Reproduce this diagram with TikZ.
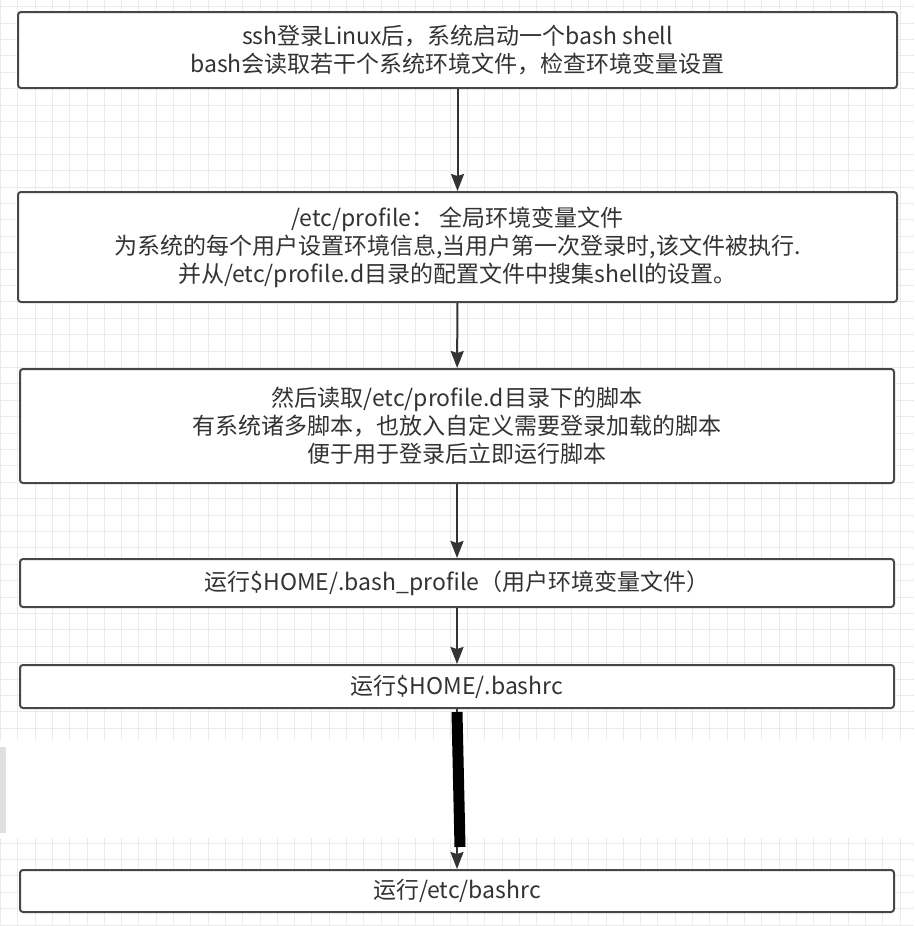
\documentclass[tikz,border=0pt]{standalone}
\usepackage{fontspec}
\setmainfont{Noto Sans CJK SC}
\usetikzlibrary{arrows.meta}
\begin{document}
\begin{tikzpicture}[x=1pt,y=-1pt,>={Stealth[length=17pt,width=13pt,inset=2pt]},
        box/.style={draw=black!72, line width=2pt, rounded corners=3pt, fill=white, align=center, text=black!80, font=\fontsize{23}{28}\selectfont, inner sep=0pt},
        flow/.style={->, draw=black!80, line width=2pt},
        gridline/.style={black!8, line width=1pt}]
        % Background
        \useasboundingbox (0,0) rectangle (914,926);
        \fill[white] (0,0) rectangle (914,926);
        \foreach \i in {0,...,52} \draw[gridline] (0.5+17.3*\i,0) -- (0.5+17.3*\i,926);
        \foreach \j in {0,...,56} \draw[gridline] (0,6.6+16.4*\j) -- (914,6.6+16.4*\j);
        \fill[white] (0,740) rectangle (914,838);
        \fill[black!12] (0,747) rectangle (6,833);
        % Nodes
        \node[box, minimum width=879, minimum height=76] (ssh) at (457.5,50) {ssh登录Linux后，系统启动一个bash shell\\bash会读取若干个系统环境文件，检查环境变量设置};
        \node[box, minimum width=879, minimum height=110] (profile) at (457.5,247) {/etc/profile：\ 全局环境变量文件\\为系统的每个用户设置环境信息,当用户第一次登录时,该文件被执行.\\并从/etc/profile.d目录的配置文件中搜集shell的设置。};
        \node[box, minimum width=874, minimum height=114] (profiled) at (457,426) {然后读取/etc/profile.d目录下的脚本\\有系统诸多脚本，也放入自定义需要登录加载的脚本\\便于用于登录后立即运行脚本};
        \node[box, minimum width=874, minimum height=48] (bashprofile) at (457,583) {运行\$HOME/.bash\_profile（用户环境变量文件）};
        \node[box, minimum width=874, minimum height=43] (homebashrc) at (457,686.5) {运行\$HOME/.bashrc};
        \node[box, minimum width=874, minimum height=42] (etcbashrc) at (457,891) {运行/etc/bashrc};
        % Arrows
        \draw[flow] (ssh) -- (profile);
        \draw[flow] (profile) -- (profiled);
        \draw[flow] (profiled) -- (bashprofile);
        \draw[flow] (bashprofile) -- (homebashrc);
        \draw[flow] (homebashrc) -- (etcbashrc);
        % Marker over the last arrow
        \coordinate (barTop) at (457,712);
        \coordinate (barBot) at (460,847);
        \draw[black, line width=11pt] (barTop) -- (barBot);
\end{tikzpicture}
\end{document}
